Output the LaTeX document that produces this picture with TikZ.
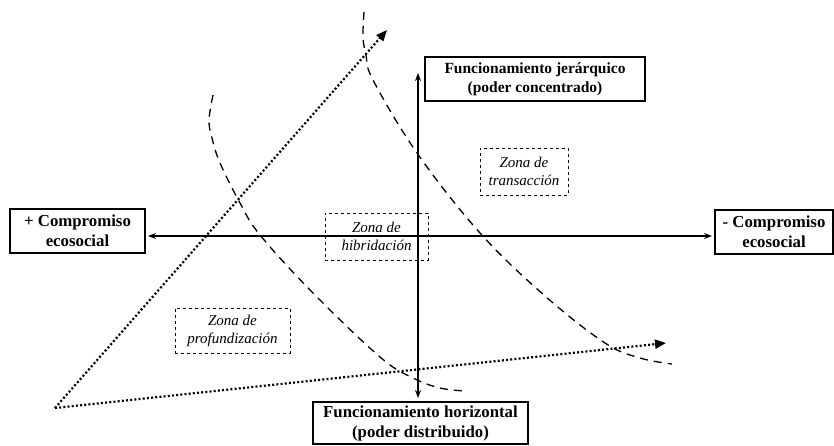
\documentclass[tikz,border=0pt]{standalone}
\usepackage{fontspec}
\setmainfont{Liberation Serif}
\usetikzlibrary{arrows.meta, positioning}

\begin{document}
\begin{tikzpicture}[
  x=1pt, y=-1pt,
  bx/.style={rectangle, draw, line width=1.1pt, align=center, inner sep=1pt,
    font=\fontsize{16.8}{20}\selectfont\bfseries},
  zn/.style={rectangle, draw, dashed, line width=0.9pt, align=center, inner sep=1pt,
    font=\fontsize{15}{18}\selectfont\itshape},
  ax/.style={{Stealth[length=8pt,width=6pt]}-{Stealth[length=8pt,width=6pt]}, line width=1.6pt},
  dt/.style={-{Triangle[length=11pt,width=9pt]}, line width=2.2pt, dash pattern=on 2pt off 2.2pt},
  % boundary curves between the zones
  dc/.style={line width=1.3pt, dash pattern=on 8pt off 6pt}]
\useasboundingbox (0,0) rectangle (834,445);

% ---- Poles of the two axes ----
\node[bx, minimum width=135, minimum height=44] (mas) at (77.5,231) {+ Compromiso\\ecosocial};
\node[bx, minimum width=118, minimum height=44] (menos) at (774,232) {- Compromiso\\ecosocial};
\node[bx, minimum width=220, minimum height=44, font=\fontsize{15.5}{19}\selectfont\bfseries] (jer) at (535,79) {Funcionamiento jerárquico\\(poder concentrado)};
\node[bx, minimum width=215, minimum height=42] (hor) at (420.5,423) {Funcionamiento horizontal\\(poder distribuido)};

% ---- Zones ----
\node[zn, minimum width=103, minimum height=47] (hib) at (376.5,236.5) {Zona de\\hibridación};
\node[zn, minimum width=88, minimum height=47] (tra) at (524,171.5) {Zona de\\transacción};
\node[zn, minimum width=115, minimum height=45] (pro) at (232.5,330.5) {Zona de\\profundización};

% ---- Axes ----
\coordinate (hl) at (148,236); \coordinate (hr) at (712,236);
\coordinate (vt) at (418,73);  \coordinate (vb) at (418,398);
\draw[ax] (hl) -- (hr);
\draw[ax] (vb) -- (vt);

% ---- Dotted vectors from the common origin ----
\coordinate (o) at (55,408);
\coordinate (t1) at (387,30); \coordinate (t2) at (666,343);
\draw[dt] (o) -- (t1);
\draw[dt] (o) -- (t2);

% ---- Dashed curves ----
\draw[dc] plot[smooth, tension=0.6] coordinates {(213,95) (209,120) (212,138) (220,163) (240,203)
  (260,235) (313,293) (380,357) (413,378) (440,388) (465,391)};
\draw[dc] plot[smooth, tension=0.6] coordinates {(364,12) (363,37) (366,55) (373,80) (417,153)
  (480,233) (545,296) (605,343) (640,358) (672,364)};
\end{tikzpicture}
\end{document}
